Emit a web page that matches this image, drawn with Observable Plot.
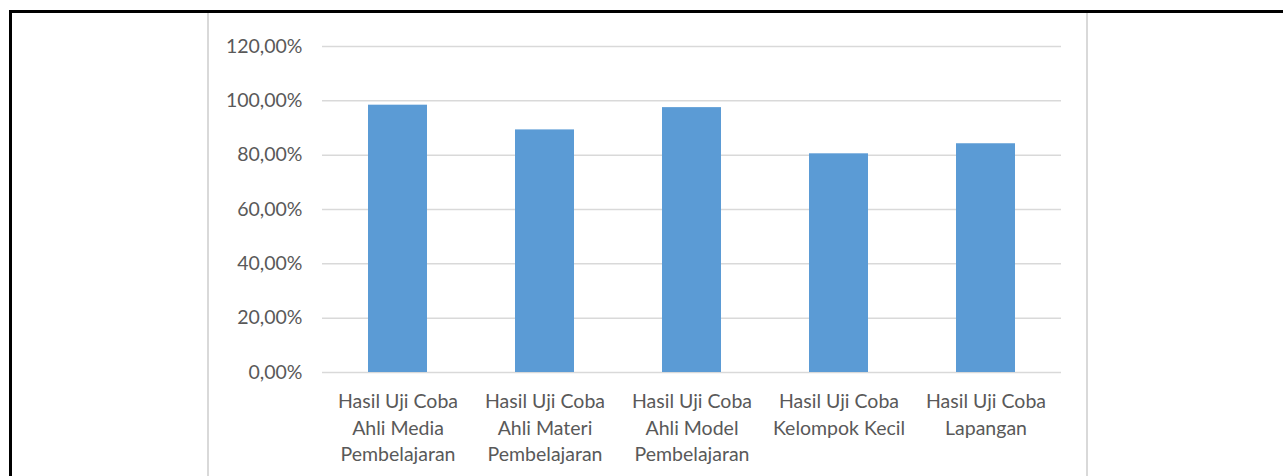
<!DOCTYPE html>
<html>
<head>
<meta charset="utf-8">
<script src="https://cdn.jsdelivr.net/npm/d3@7"></script>
<script src="https://cdn.jsdelivr.net/npm/@observablehq/plot@0.6"></script>
<style>
  html, body { margin: 0; padding: 0; background: #fff; }
  #wrap { position: relative; width: 1283px; height: 476px; overflow: hidden; }
  .deco { position: absolute; pointer-events: none; }
</style>
</head>
<body>
<div id="wrap">
  <div class="deco" style="left:9px; top:10px; width:1274px; height:3px; background:#000;"></div>
  <div class="deco" style="left:9px; top:10px; width:3px; height:466px; background:#000;"></div>
  <div class="deco" style="left:207px; top:13px; width:2px; height:463px; background:#d9d9d9;"></div>
  <div class="deco" style="left:1086px; top:13px; width:2px; height:463px; background:#d9d9d9;"></div>
</div>
<script>
const categories = [
  "Hasil Uji Coba\nAhli Media\nPembelajaran",
  "Hasil Uji Coba\nAhli Materi\nPembelajaran",
  "Hasil Uji Coba\nAhli Model\nPembelajaran",
  "Hasil Uji Coba\nKelompok Kecil",
  "Hasil Uji Coba\nLapangan"
];
const values = [0.984, 0.893, 0.975, 0.805, 0.842];
const yTicks = [0, 0.2, 0.4, 0.6, 0.8, 1.0, 1.2];

const data = categories.map((c, i) => ({category: c, value: values[i]}));
const fmt = d => (d * 100).toFixed(2).replace(".", ",") + "%";

const chart = Plot.plot({
  width: 1283,
  height: 476,
  marginLeft: 322,
  marginRight: 222,
  marginTop: 46,
  marginBottom: 104,
  style: {fontFamily: "Lato, 'Open Sans', sans-serif", fontSize: "19.5px", color: "#595959", background: "transparent"},
  x: {domain: categories, paddingInner: 0.6, paddingOuter: 0.3, label: null},
  y: {domain: [0, 1.2], label: null},
  marks: [
    Plot.gridY(yTicks, {stroke: "#d9d9d9", strokeOpacity: 1, strokeWidth: 1.5}),
    Plot.barY(data, {x: "category", y: "value", fill: "#5b9bd5"}),
    Plot.axisY(yTicks, {tickSize: 0, tickPadding: 20, tickFormat: fmt, fill: "#595959", fontSize: 19.5, label: null}),
    Plot.axisX({tickSize: 0, tickPadding: 17, fill: "#595959", fontSize: 19.5, lineHeight: 1.36, label: null})
  ]
});
chart.style.position = "absolute";
chart.style.left = "0px";
chart.style.top = "0px";
document.getElementById("wrap").appendChild(chart);
</script>
</body>
</html>
